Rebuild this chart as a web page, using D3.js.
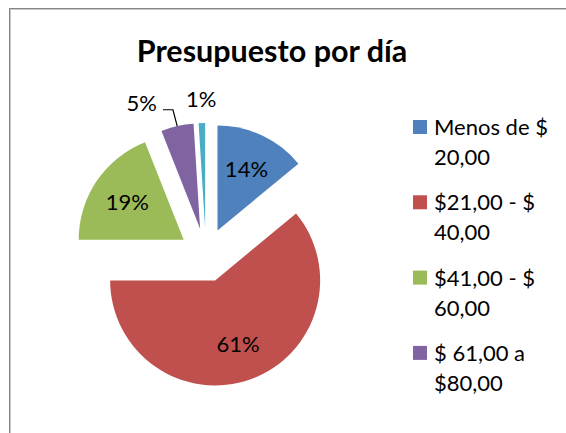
<!DOCTYPE html>
<html lang="es">
<head>
<meta charset="utf-8">
<title>Presupuesto por día</title>
<script type="text/javascript" src="https://d3js.org/d3.v7.min.js"></script>
<style>
body { margin: 0; background: #fff; }
text { font-family: Lato, "Open Sans", sans-serif; fill: #000; }
.title { font-weight: bold; font-size: 30.5px; }
.lbl { font-size: 22px; }
.legend text { font-size: 22px; }
</style>
</head>
<body>
<div id="chart"></div>
<script type="text/javascript">

// data
var categories = ["Menos de $ 20,00", "$21,00 - $ 40,00", "$41,00 - $ 60,00", "$ 61,00 a $80,00", "Más de $80,00"];
var values = [14, 61, 19, 5, 1];
var colors = ["#4F81BD", "#C0504D", "#9BBB59", "#8064A2", "#4BACC6"];
var legendShown = 4;   // the last entry does not fit in the frame

var w = 566, h = 433;
var cx = 206, cy = 255, r = 105, explode = 27;

var svg = d3.select("#chart").append("svg")
    .attr("width", w)
    .attr("height", h);

// chart frame (only left and top edges visible)
svg.append("rect")
    .attr("x", 9.5).attr("y", 8.5)
    .attr("width", 620).attr("height", 500)
    .attr("fill", "none")
    .attr("stroke", "#868686")
    .attr("stroke-width", 1);
svg.append("rect")
    .attr("x", 10.5).attr("y", 9.5)
    .attr("width", 620).attr("height", 500)
    .attr("fill", "none")
    .attr("stroke", "#c8c8c8")
    .attr("stroke-width", 1);

svg.append("text")
    .attr("class", "title")
    .attr("x", 272)
    .attr("y", 62)
    .attr("text-anchor", "middle")
    .text("Presupuesto por día");

var pie = d3.pie().sort(null).value(function(d) { return d; });
var arcs = pie(values);

var arc = d3.arc().innerRadius(0).outerRadius(r);
var labelArc = d3.arc().innerRadius(68).outerRadius(68);
var outerArc = d3.arc().innerRadius(r + 24).outerRadius(r + 24);
var edgeArc = d3.arc().innerRadius(r).outerRadius(r);

function offset(d) {
    var a = (d.startAngle + d.endAngle) / 2;
    return [explode * Math.sin(a), -explode * Math.cos(a)];
}

var g = svg.append("g").attr("transform", "translate(" + cx + "," + cy + ")");

var slices = g.selectAll("g.slice")
    .data(arcs)
    .enter()
    .append("g")
    .attr("class", "slice")
    .attr("transform", function(d) { var o = offset(d); return "translate(" + o[0] + "," + o[1] + ")"; });

slices.append("path")
    .attr("d", arc)
    .attr("fill", function(d, i) { return colors[i]; });

// labels inside the big slices
slices.filter(function(d) { return d.value >= 10; })
    .append("text")
    .attr("class", "lbl")
    .attr("text-anchor", "middle")
    .attr("dy", "0.36em")
    .attr("transform", function(d) { return "translate(" + labelArc.centroid(d) + ")"; })
    .text(function(d) { return d.value + "%"; });

// small slices: labels outside, with a leader when pushed aside
var small = arcs.filter(function(d) { return d.value < 10; });
small.forEach(function(d, k) {
    var o = offset(d);
    var p = outerArc.centroid(d);
    var x = p[0] + o[0], y = p[1] + o[1];
    var next = small[k + 1];
    var txt = g.append("text")
        .attr("class", "lbl")
        .attr("y", y)
        .attr("dy", "0.36em")
        .text(d.value + "%");
    if (next) {
        var pn = outerArc.centroid(next), on = offset(next);
        if (Math.abs((pn[0] + on[0]) - x) < 45) {
            var e = edgeArc.centroid(d);
            var ex = e[0] + o[0], ey = e[1] + o[1];
            txt.attr("x", x - 15).attr("text-anchor", "end");
            g.append("path")
                .attr("d", d3.line()([[x - 9, y + 7], [x + 1, y + 7], [ex, ey]]))
                .attr("fill", "none")
                .attr("stroke", "#000")
                .attr("stroke-width", 1.2);
            return;
        }
    }
    txt.attr("x", x).attr("text-anchor", "middle");
});

// legend
var legend = svg.append("g").attr("class", "legend");
var item = legend.selectAll("g")
    .data(categories.slice(0, legendShown))
    .enter()
    .append("g")
    .attr("transform", function(d, i) { return "translate(413," + (135 + i * 75.3) + ")"; });

item.append("rect")
    .attr("x", 0).attr("y", -15)
    .attr("width", 14).attr("height", 14)
    .attr("fill", function(d, i) { return colors[i]; });

item.each(function(d) {
    var t = d3.select(this).append("text").attr("x", 21);
    var words = d.split(" "), line = [], n = 0;
    var ts = t.append("tspan").attr("x", 21).attr("y", 0);
    words.forEach(function(wd) {
        line.push(wd);
        ts.text(line.join(" "));
        if (ts.node().getComputedTextLength() > 130 && line.length > 1) {
            line.pop();
            ts.text(line.join(" "));
            line = [wd];
            n++;
            ts = t.append("tspan").attr("x", 21).attr("y", n * 30).text(wd);
        }
    });
});

</script>
</body>
</html>
